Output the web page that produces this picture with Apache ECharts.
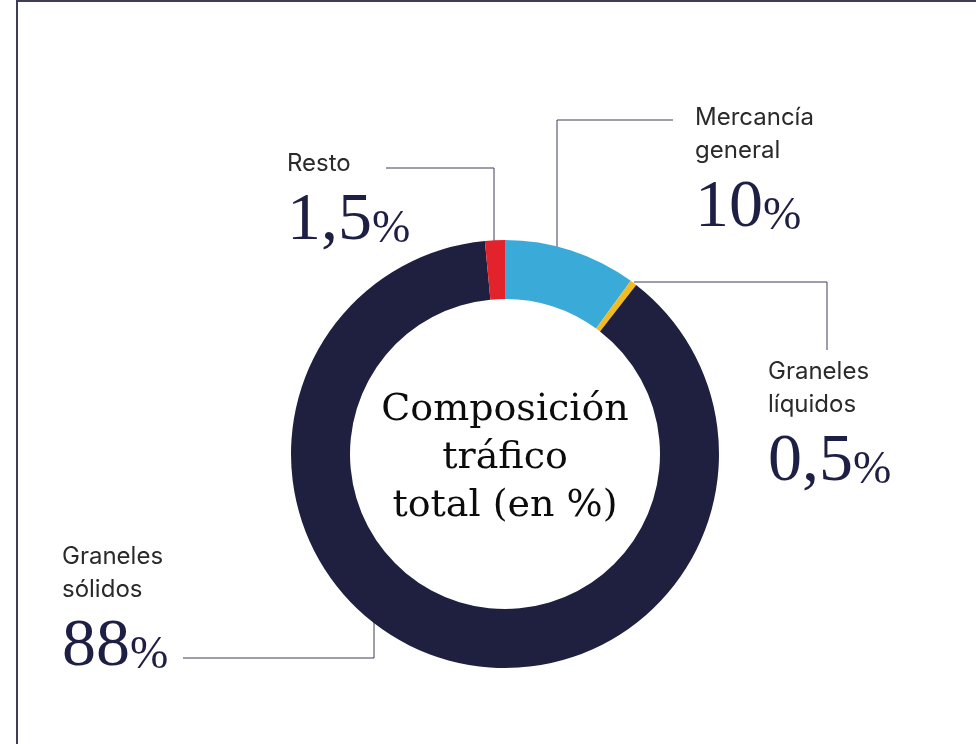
<!DOCTYPE html>
<html>
<head>
<meta charset="utf-8">
<script src="https://cdn.jsdelivr.net/npm/echarts@6/dist/echarts.min.js"></script>
<style>
  html, body { margin: 0; padding: 0; background: #fff; }
  #frame { position: absolute; left: 16px; top: 0; width: 960px; height: 744px;
           border-left: 2px solid #3d3d58; border-top: 2px solid #3d3d58; box-sizing: border-box; }
  #chart { position: absolute; left: 0; top: 0; width: 976px; height: 744px; }
</style>
</head>
<body>
<div id="frame"></div>
<div id="chart"></div>
<script>
// datos del gráfico
var categories = ['Mercancía general', 'Graneles líquidos', 'Graneles sólidos', 'Resto'];
var values = [10, 0.5, 88, 1.5];
var valueLabels = ['10', '0,5', '88', '1,5'];
var palette = ['#3aabd8', '#f3bb22', '#1f1f40', '#e3232b'];
var centerTitle = 'Composición\ntráfico\ntotal (en %)';

// posición de cada etiqueta y su línea guía (x, y de arriba a la izquierda)
var labelPos = [
  { x: 695, y: 101, line: [[557, 268], [557, 120], [673, 120]] },
  { x: 768, y: 355, line: [[634, 282], [827, 282], [827, 350]] },
  { x: 62, y: 540, line: [[374, 590], [374, 658], [183, 658]] },
  { x: 287, y: 147, line: [[494, 268], [494, 168], [386, 168]] }
];

var chart = echarts.init(document.getElementById('chart'));

var seriesData = categories.map(function (name, i) {
  return { name: name, value: values[i], itemStyle: { color: palette[i] } };
});

var option = {
  animation: false,
  graphic: [{
    type: 'text',
    x: 505,
    y: 386,
    style: {
      text: centerTitle,
      align: 'center',
      textAlign: 'center',
      verticalAlign: 'top',
      textVerticalAlign: 'top',
      font: '38px "DejaVu Serif"',
      fill: '#0c0c0c',
      lineHeight: 48
    }
  }],
  series: [{
    type: 'pie',
    center: [505, 454],
    radius: [155, 214],
    startAngle: 90,
    clockwise: true,
    avoidLabelOverlap: false,
    silent: true,
    data: seriesData,
    label: {
      show: true,
      formatter: function (p) {
        var lines = p.name.split(' ').map(function (w) { return '{n|' + w + '}'; });
        return lines.join('\n') + '\n{v|' + valueLabels[p.dataIndex] + '}{p|%}';
      },
      rich: {
        n: { fontFamily: 'Inter', fontSize: 24, color: '#2a2a2a', lineHeight: 33 },
        v: { fontFamily: 'Liberation Serif', fontSize: 68, color: '#1e1f44', lineHeight: 83 },
        p: { fontFamily: 'Liberation Serif', fontSize: 46, color: '#1e1f44', lineHeight: 70,
             verticalAlign: 'bottom', padding: [0, 0, 10, 0] }
      }
    },
    labelLine: {
      show: true,
      smooth: false,
      lineStyle: { color: '#3c3c5a', width: 1 }
    },
    labelLayout: function (params) {
      var pos = labelPos[params.dataIndex];
      return {
        x: pos.x,
        y: pos.y,
        align: 'left',
        verticalAlign: 'top',
        labelLinePoints: pos.line
      };
    }
  }]
};

chart.setOption(option);
</script>
</body>
</html>
